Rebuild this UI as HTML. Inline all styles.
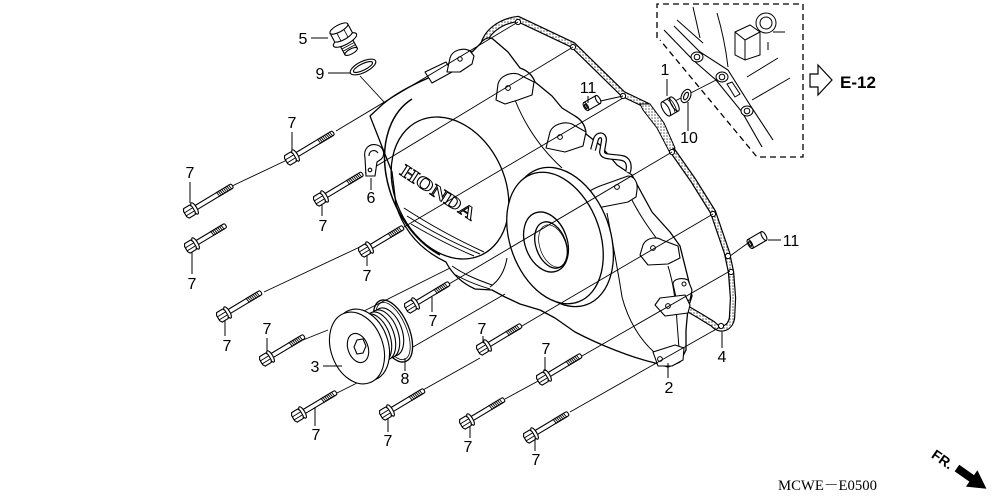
<!DOCTYPE html>
<html><head><meta charset="utf-8"><style>
html,body{margin:0;padding:0;background:#fff;}
svg{display:block;}
.l{font-family:"Liberation Sans",Arial,sans-serif;font-size:16px;fill:#000;text-anchor:middle;}
</style></head><body>
<svg width="1000" height="499" viewBox="0 0 1000 499" xmlns="http://www.w3.org/2000/svg">
<defs>
<pattern id="dots" width="3" height="3" patternUnits="userSpaceOnUse">
 <rect width="3" height="3" fill="#fff"/>
 <circle cx="1" cy="1" r="0.75" fill="#555"/>
</pattern>
<g id="b46" fill="#fff" stroke="#000" stroke-width="1.1">
 <path d="M4,-2.3H46C47.6,-2.3 47.6,2.3 46,2.3H4Z"/>
 <path d="M30,-3L31,3M32,-3L33,3M34,-3L35,3M36,-3L37,3M38,-3L39,3M40,-3L41,3M42,-3L43,3M44,-3L45,3" fill="none" stroke-width="0.9"/>
 <ellipse cx="3" cy="0" rx="2.2" ry="6.5"/>
 <path d="M-6.5,-5.5H0.5L1.8,-3V3L0.5,5.5H-6.5L-8,3V-3Z"/>
 <path d="M-8,-1.5H1.8M-8,2H1.8" fill="none" stroke-width="0.9"/>
</g>
<g id="b41" fill="#fff" stroke="#000" stroke-width="1.1">
 <path d="M4,-2.3H41C42.6,-2.3 42.6,2.3 41,2.3H4Z"/>
 <path d="M26,-3L27,3M28,-3L29,3M30,-3L31,3M32,-3L33,3M34,-3L35,3M36,-3L37,3M38,-3L39,3" fill="none" stroke-width="0.9"/>
 <ellipse cx="3" cy="0" rx="2.2" ry="6.5"/>
 <path d="M-6.5,-5.5H0.5L1.8,-3V3L0.5,5.5H-6.5L-8,3V-3Z"/>
 <path d="M-8,-1.5H1.8M-8,2H1.8" fill="none" stroke-width="0.9"/>
</g>
<g id="b36" fill="#fff" stroke="#000" stroke-width="1.1">
 <path d="M4,-2.3H37C38.6,-2.3 38.6,2.3 37,2.3H4Z"/>
 <path d="M22,-3L23,3M24,-3L25,3M26,-3L27,3M28,-3L29,3M30,-3L31,3M32,-3L33,3M34,-3L35,3" fill="none" stroke-width="0.9"/>
 <ellipse cx="3" cy="0" rx="2.2" ry="6.5"/>
 <path d="M-6.5,-5.5H0.5L1.8,-3V3L0.5,5.5H-6.5L-8,3V-3Z"/>
 <path d="M-8,-1.5H1.8M-8,2H1.8" fill="none" stroke-width="0.9"/>
</g>
</defs>
<rect width="1000" height="499" fill="#fff"/>

<!-- gasket (4) -->
<g fill="none" stroke-linejoin="round">
<path d="M483,46 C486,32 500,21 518,19 L573,45 L623,94 L648,106 L661,125 L672,150 L693,180 L713,212 L727,253 L731,272 L733,298 L732,318 C730,329 720,332 713,324 L700,316 L688,309" stroke="#000" stroke-width="6.4"/>
<path d="M483,46 C486,32 500,21 518,19 L573,45 L623,94 L648,106 L661,125 L672,150 L693,180 L713,212 L727,253 L731,272 L733,298 L732,318 C730,329 720,332 713,324 L700,316 L688,309" stroke="url(#dots)" stroke-width="4"/>
</g>
<path d="M640,104 L650,104 L664,123 L675,148 L669,151 L657,128 L643,110 Z" fill="url(#dots)" stroke="#000" stroke-width="1"/>
<g fill="#fff" stroke="#000" stroke-width="1">
<circle cx="518" cy="22" r="2.6"/><circle cx="573" cy="47" r="2.6"/><circle cx="623" cy="96" r="2.6"/>
<circle cx="672" cy="152" r="2.6"/><circle cx="713" cy="214" r="2.6"/><circle cx="728" cy="256" r="2.6"/>
<circle cx="731" cy="272" r="2.6"/><circle cx="721" cy="326" r="2.6"/>
</g>

<!-- cover (2) -->
<g stroke="#000" stroke-width="1.3" stroke-linejoin="round">
<path d="M370,116 L383,104 C395,94 410,86 426,79 L447,70 L452,56 C455,50 467,48 472,52 L480,44 C484,38 490,36 494,40 L508,52 L520,68 C526,70 532,74 535,82 L552,96 L562,108 L575,116 C582,120 586,127 586,134 L600,145 L617,165 L632,175 L640,190 L652,212 L670,232 L680,246 L684,262 L688,278 L692,296 L688,308 L686,330 L686,350 L680,362 L668,367 L655,363 C630,357 600,345 575,332 L555,318 L540,310 L520,304 L505,297 L492,290 L475,289 C462,283 452,274 446,262 C425,252 405,235 396,205 L392,172 Z" fill="#fff"/>
<g fill="none">
<path d="M412,99 A66,90 -25 0 0 440,255" stroke-width="1.5"/>
<ellipse cx="450" cy="188" rx="55" ry="74" transform="rotate(-25 450 188)"/>
<path d="M404,208 C430,225 458,240 484,252" stroke-width="1"/>
<path d="M407,216 C432,232 456,244 480,254" stroke-width="1"/>
<path d="M411,224 C435,238 455,248 474,256" stroke-width="1"/>
<path d="M452,266 C465,275 478,280 492,285" stroke-width="1"/>
<path d="M456,275 C468,282 480,286 490,289" stroke-width="1"/>
<path d="M490,287 C500,280 505,270 507,258" stroke-width="1"/>
<path d="M515,100 C525,125 540,148 562,168" stroke-width="1"/>
<path d="M607,213 C612,240 618,270 622,297 C628,320 640,340 655,353" stroke-width="1"/>
<path d="M632,200 C642,220 655,236 665,250" stroke-width="1"/>
<path d="M668,266 C673,282 676,302 677,322 L679,348" stroke-width="1"/>
<path d="M426,79 C440,72 455,68 470,60" stroke-width="1"/>
</g>
<!-- lugs -->
<g fill="#fff" stroke-width="1.1">
<path d="M425,72 L446,62 L452,72 L432,83 Z"/>
<path d="M447,72 L450,58 C452,50 464,47 470,51 L474,56 L472,64 L460,72 Z"/>
<path d="M496,100 L498,84 C500,76 510,72 518,74 L534,82 L532,95 L518,100 L505,104 Z"/>
<path d="M546,148 L550,132 C553,124 565,121 572,124 L586,132 L583,146 L565,152 Z"/>
<path d="M585,200 C585,193 590,190 600,186 L628,176 C634,176 638,182 637,190 L636,197 L628,202 L592,209 C587,209 584,205 585,200 Z"/>
<path d="M640,255 L643,245 C646,238 656,236 662,240 L678,246 L680,258 L668,264 L648,265 Z"/>
<path d="M673,284 C673,279 682,277 688,280 L692,290 L690,300 L677,302 Z"/>
<path d="M655,305 L660,298 L685,295 L690,305 L688,313 L665,316 Z"/>
<path d="M653,352 L675,345 L684,348 L683,360 L672,366 L658,366 Z"/>
</g>
<g fill="#fff" stroke-width="1">
<circle cx="460" cy="59" r="2.2"/><circle cx="508" cy="88" r="2.4"/><circle cx="560" cy="137" r="2.4"/>
<circle cx="617" cy="187" r="2.4"/><circle cx="653" cy="248" r="2.4"/><circle cx="668" cy="306" r="2.4"/>
<circle cx="660" cy="359" r="2.4"/><circle cx="684" cy="284" r="2"/>
</g>
<path d="M593,150 L596,139 C598,134 604,134 604,140 L602,152 C603,158 612,156 622,158 C628,159 630,165 628,172" fill="none" stroke="#000" stroke-width="6"/>
<path d="M593,150 L596,139 C598,134 604,134 604,140 L602,152 C603,158 612,156 622,158 C628,159 630,165 628,172" fill="none" stroke="#fff" stroke-width="3.6"/>
<!-- boss & hole -->
<ellipse cx="562" cy="237" rx="48" ry="72" transform="rotate(-20 562 237)" fill="#fff"/>
<ellipse cx="555" cy="238" rx="45" ry="68" transform="rotate(-20 555 238)" fill="#fff"/>
<ellipse cx="546" cy="242" rx="21" ry="31" transform="rotate(-20 546 242)" fill="#fff"/>
<ellipse cx="551" cy="245" rx="15" ry="24" transform="rotate(-20 551 245)" fill="#fff"/>
<ellipse cx="553" cy="246" rx="13" ry="22" transform="rotate(-20 553 246)" fill="none" stroke-width="0.7"/>
</g>
<text transform="translate(399,174) rotate(33)" font-family="Liberation Serif,serif" font-weight="bold" font-size="18" fill="#fff" stroke="#000" stroke-width="0.9" textLength="86" lengthAdjust="spacingAndGlyphs">HONDA</text>

<!-- center lines -->
<g stroke="#000" stroke-width="0.9" fill="none">
<path d="M232,186 L287,160"/>
<path d="M336,131 L518,22"/>
<path d="M360,76 L385,103"/>
<path d="M365,173 L573,47"/>
<path d="M264,292 L362,246"/>
<path d="M404,227 L623,98"/>
<path d="M303,340 L328,330 M362,312 L450,268"/>
<path d="M449,284 L672,152"/>
<path d="M337,393 L357,383 M413,347 L505,294"/>
<path d="M522,326 L713,214"/>
<path d="M423,390 L480,358"/>
<path d="M505,399 L540,380"/>
<path d="M582,356 L730,271"/>
<path d="M570,412 L720,327"/>
<path d="M596,102 L623,96"/>
<path d="M748,243 L730,256"/>
<path d="M675,101 L722,77"/>
</g>

<!-- E-12 box -->
<g fill="none" stroke="#000">
<path d="M657,38 V4 H803 V157 H757 L660,40" stroke-width="1.3" stroke-dasharray="6,4"/>
<path d="M664,30 L693,60 L716,80 L742,112 L762,147" stroke-width="1.1"/>
<path d="M674,26 L700,52 L728,70 L750,105 L773,140" stroke-width="1.1"/>
<g stroke-width="1">
<path d="M693,7 L700,38 M677,20 L703,43 M717,13 C722,30 726,50 728,67"/>
<path d="M735,32 L750,25 L760,32 L760,55 L745,60 L735,55 Z M735,32 L745,40 L760,32 M745,40 V60" fill="#fff"/>
<circle cx="766" cy="23" r="10"/><circle cx="766" cy="23" r="6"/>
<path d="M747,77 L778,58 M752,100 L790,78 M773,32 H785 M768,42 V50"/>
<ellipse cx="697" cy="57" rx="6" ry="5" fill="#fff"/><circle cx="697" cy="57" r="2.8"/>
<ellipse cx="722" cy="77" rx="6" ry="5" fill="#fff"/><circle cx="722" cy="77" r="2.8"/>
<ellipse cx="747" cy="111" rx="6" ry="5" fill="#fff"/><circle cx="747" cy="111" r="2.8"/>
<polygon points="727,84 732,82 740,94 735,97" fill="#fff"/>
</g>
<polygon points="810,74 818,74 818,65 832,80 818,95 818,87 810,87" fill="#fff" stroke-width="1.2"/>
</g>
<text x="840" y="88" font-family="Liberation Sans,Arial,sans-serif" font-weight="bold" font-size="17">E-12</text>

<!-- small parts -->
<g stroke="#000" stroke-width="1.1" fill="#fff">
<g transform="translate(345,40) rotate(-28)">
 <path d="M-7,1 V13 H7 V1 Z"/>
 <path d="M-7,4 H7 M-7,6.5 H7 M-7,9 H7 M-7,11.5 H7" fill="none" stroke-width="0.8"/>
 <ellipse cx="0" cy="13" rx="7" ry="2.5"/>
 <ellipse cx="0" cy="0" rx="13" ry="4.5"/>
 <path d="M-10,-13 V-3 C-6,0 6,0 10,-3 V-13 Z"/>
 <path d="M-4,-12 V-1 M4,-12 V-1" fill="none" stroke-width="0.8"/>
 <ellipse cx="0" cy="-13" rx="10" ry="3.5"/>
</g>
<ellipse cx="363" cy="67" rx="14" ry="5.5" transform="rotate(-26 363 67)"/>
<ellipse cx="363" cy="67" rx="10.5" ry="3.2" transform="rotate(-26 363 67)"/>
<path d="M366,176 L365,158 C363,148 370,143 377,145 C384,147 386,156 380,160 L377,162 L375,176 Z"/>
<path d="M369,156 C369,150 375,149 378,153" fill="none"/>
<circle cx="370" cy="170" r="1.8"/>
<g transform="translate(592,103) rotate(-30)">
 <path d="M-7,-4.5 H7 V4.5 H-7 Z"/><ellipse cx="7" cy="0" rx="2" ry="4.5"/><ellipse cx="-7" cy="0" rx="2" ry="4.5"/><ellipse cx="-7" cy="0" rx="0.9" ry="2.3"/>
</g>
<g transform="translate(757,240) rotate(-30)">
 <path d="M-8,-5 H8 V5 H-8 Z"/><ellipse cx="8" cy="0" rx="2" ry="5"/><ellipse cx="-8" cy="0" rx="2" ry="5"/><ellipse cx="-8" cy="0" rx="1" ry="2.6"/>
</g>
<g transform="translate(671,106) rotate(-30)">
 <path d="M-6,-8 H4 V8 H-6 Z"/><ellipse cx="4" cy="0" rx="3" ry="8"/>
 <path d="M0,-8 C2,-4 2,4 0,8 M2,-8 C4,-4 4,4 2,8" fill="none" stroke-width="0.8"/>
 <ellipse cx="-6" cy="0" rx="3" ry="8"/>
</g>
<ellipse cx="686" cy="96" rx="4.5" ry="7" transform="rotate(25 686 96)"/>
<ellipse cx="686" cy="96" rx="2" ry="4" transform="rotate(25 686 96)"/>
<ellipse cx="393" cy="331" rx="16" ry="33" transform="rotate(-23 393 331)" fill="none" stroke-width="1.3"/>
<ellipse cx="393" cy="331" rx="13.5" ry="30.5" transform="rotate(-23 393 331)" fill="none" stroke-width="0.8"/>
<ellipse cx="388" cy="332" rx="14" ry="25" transform="rotate(-20 388 332)"/>
<ellipse cx="384" cy="334" rx="14" ry="25" transform="rotate(-20 384 334)"/>
<ellipse cx="380" cy="336" rx="14" ry="25" transform="rotate(-20 380 336)"/>
<ellipse cx="376" cy="338" rx="14" ry="25" transform="rotate(-20 376 338)"/>
<ellipse cx="362" cy="345" rx="26" ry="37" transform="rotate(-20 362 345)"/>
<ellipse cx="357" cy="348" rx="26" ry="37" transform="rotate(-20 357 348)"/>
<ellipse cx="358" cy="348" rx="10" ry="15" transform="rotate(-20 358 348)"/>
<polygon points="354,347 357,340 363,339 366,346 363,353 357,354"/>
</g>

<!-- bolts 7 -->
<use href="#b46" transform="translate(293,157) rotate(-31)"/>
<use href="#b46" transform="translate(192,210) rotate(-31)"/>
<use href="#b36" transform="translate(193,245) rotate(-31)"/>
<use href="#b46" transform="translate(322,198) rotate(-31)"/>
<use href="#b41" transform="translate(367,249) rotate(-31)"/>
<use href="#b41" transform="translate(225,314) rotate(-31)"/>
<use href="#b41" transform="translate(268,358) rotate(-31)"/>
<use href="#b41" transform="translate(413,305) rotate(-31)"/>
<use href="#b41" transform="translate(300,414) rotate(-31)"/>
<use href="#b41" transform="translate(485,347) rotate(-31)"/>
<use href="#b41" transform="translate(388,412) rotate(-31)"/>
<use href="#b41" transform="translate(468,421) rotate(-31)"/>
<use href="#b41" transform="translate(545,377) rotate(-31)"/>
<use href="#b41" transform="translate(532,435) rotate(-31)"/>

<!-- leaders -->
<g stroke="#000" stroke-width="1" fill="none">
<path d="M311,38H328 M328,73H350 M292,132V150 M190,182V203 M371,178V190 M322,205V216 M192,252V274 M367,256V266 M588,96V103 M667,79V96 M688,102V131 M768,240H781 M225,321V336 M267,338V351 M432,297V312 M323,366H342 M405,358V371 M483,336V342 M545,357V371 M315,407V426 M388,418V432 M470,426V438 M535,440V451 M668,363V378 M722,332V348"/>
</g>

<!-- labels -->
<text class="l" x="303" y="44">5</text>
<text class="l" x="320" y="79">9</text>
<text class="l" x="292" y="128">7</text>
<text class="l" x="190" y="178">7</text>
<text class="l" x="371" y="203">6</text>
<text class="l" x="323" y="231">7</text>
<text class="l" x="192" y="289">7</text>
<text class="l" x="367" y="281">7</text>
<text class="l" x="588" y="93">11</text>
<text class="l" x="665" y="75">1</text>
<text class="l" x="689" y="143">10</text>
<text class="l" x="791" y="246">11</text>
<text class="l" x="227" y="351">7</text>
<text class="l" x="267" y="334">7</text>
<text class="l" x="433" y="326">7</text>
<text class="l" x="315" y="372">3</text>
<text class="l" x="405" y="384">8</text>
<text class="l" x="482" y="334">7</text>
<text class="l" x="546" y="354">7</text>
<text class="l" x="316" y="440">7</text>
<text class="l" x="388" y="446">7</text>
<text class="l" x="468" y="452">7</text>
<text class="l" x="536" y="465">7</text>
<text class="l" x="669" y="393">2</text>
<text class="l" x="722" y="362">4</text>

<text x="778" y="490" font-family="Liberation Serif,'Noto Serif CJK SC',serif" font-size="15" textLength="99" lengthAdjust="spacingAndGlyphs">MCWE－E0500</text>
<g transform="translate(934,452) rotate(35)">
 <text x="0" y="6" font-family="Liberation Sans,Arial,sans-serif" font-weight="bold" font-size="14">FR.</text>
 <polygon points="28,-4 46,-4 46,-10 64,0 46,10 46,4 28,4" fill="#000"/>
</g>
</svg>
</body></html>
